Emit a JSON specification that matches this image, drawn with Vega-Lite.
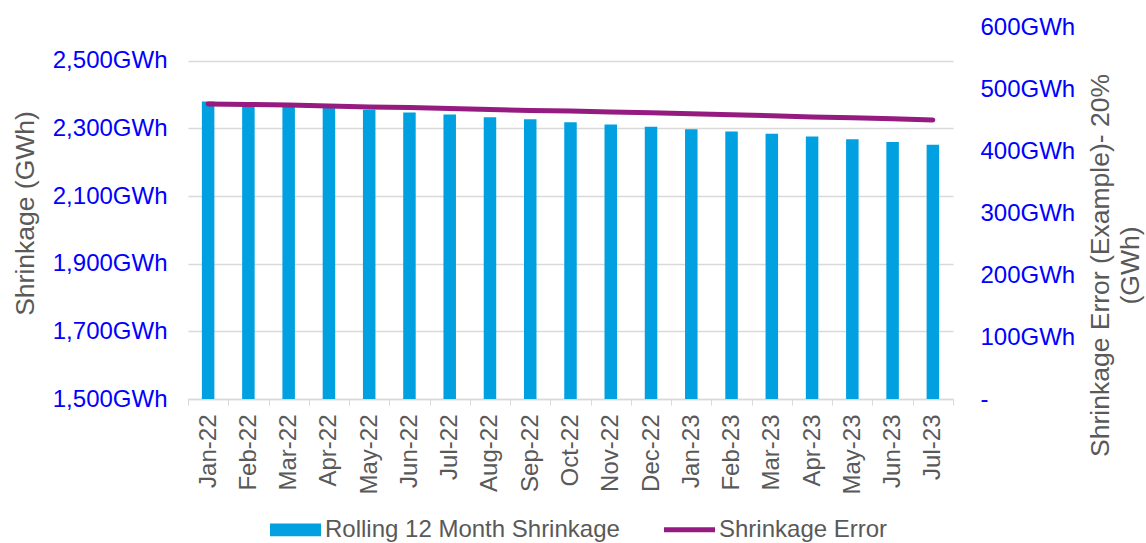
{
  "$schema": "https://vega.github.io/schema/vega-lite/v6.json",
  "width": 765,
  "height": 372,
  "autosize": {"type": "none"},
  "padding": {"left": 188, "top": 27, "right": 193, "bottom": 144},
  "background": "white",
  "config": {
    "font": "Liberation Sans",
    "view": {"stroke": null},
    "axis": {"labelFont": "Liberation Sans", "titleFont": "Liberation Sans", "titleFontWeight": "normal"}
  },
  "data": {
    "values": [
      {"month": "Jan-22", "shrinkage": 2380, "error": 476},
      {"month": "Feb-22", "shrinkage": 2373, "error": 475},
      {"month": "Mar-22", "shrinkage": 2367, "error": 474},
      {"month": "Apr-22", "shrinkage": 2361, "error": 472.5},
      {"month": "May-22", "shrinkage": 2355, "error": 471},
      {"month": "Jun-22", "shrinkage": 2347, "error": 470},
      {"month": "Jul-22", "shrinkage": 2341, "error": 468.5},
      {"month": "Aug-22", "shrinkage": 2333, "error": 467},
      {"month": "Sep-22", "shrinkage": 2327, "error": 465.5},
      {"month": "Oct-22", "shrinkage": 2318, "error": 464.5},
      {"month": "Nov-22", "shrinkage": 2312, "error": 463},
      {"month": "Dec-22", "shrinkage": 2305, "error": 461.5},
      {"month": "Jan-23", "shrinkage": 2298, "error": 460},
      {"month": "Feb-23", "shrinkage": 2291, "error": 458.5},
      {"month": "Mar-23", "shrinkage": 2284, "error": 457},
      {"month": "Apr-23", "shrinkage": 2276, "error": 455},
      {"month": "May-23", "shrinkage": 2268, "error": 453.5},
      {"month": "Jun-23", "shrinkage": 2260, "error": 452},
      {"month": "Jul-23", "shrinkage": 2252, "error": 450}
    ]
  },
  "encoding": {
    "x": {
      "field": "month",
      "type": "ordinal",
      "sort": null,
      "scale": {"paddingInner": 0, "paddingOuter": 0},
      "axis": {
        "title": null,
        "labelAngle": -90,
        "labelFontSize": 24,
        "labelColor": "#595959",
        "labelPadding": 9,
        "tickBand": "extent",
        "tickSize": 6,
        "tickColor": "#D9D9D9",
        "domainColor": "#D9D9D9",
        "domainWidth": 1.5,
        "grid": false,
        "labelLimit": 200
      }
    }
  },
  "layer": [
    {
      "mark": {"type": "bar", "width": 12.5, "clip": true},
      "encoding": {
        "y": {
          "field": "shrinkage",
          "type": "quantitative",
          "scale": {"domain": [1500, 2600], "nice": false, "zero": false},
          "axis": {
            "orient": "left",
            "title": "Shrinkage (GWh)",
            "titleFontSize": 26.5,
            "titleColor": "#595959",
            "titleX": -163,
            "titleY": 186,
            "titleAngle": -90,
            "titleAlign": "center",
            "titleBaseline": "middle",
            "values": [1500, 1700, 1900, 2100, 2300, 2500],
            "labelExpr": "format(datum.value, ',') + 'GWh'",
            "labelFontSize": 24,
            "labelColor": "#0000FF",
            "labelPadding": 21,
            "ticks": false,
            "domain": false,
            "grid": true,
            "gridColor": "#D9D9D9",
            "gridWidth": 1.5
          }
        },
        "y2": {"datum": 1500},
        "color": {
          "datum": "Rolling 12 Month Shrinkage",
          "type": "nominal",
          "scale": {"domain": ["Rolling 12 Month Shrinkage", "Shrinkage Error"], "range": ["#00A0E1", "#951B81"]},
          "legend": {
            "title": null,
            "orient": "none",
            "legendX": 82,
            "legendY": 477,
            "direction": "horizontal",
            "labelFontSize": 24,
            "labelColor": "#595959",
            "labelLimit": 400,
            "labelOffset": 4,
            "columnPadding": 44,
            "symbolSize": 2601,
            "encode": {
              "symbols": {
                "update": {
                  "shape": {"signal": "datum.value === 'Shrinkage Error' ? 'M-1,-0.1H1V0.1H-1Z' : 'M-1,-0.25H1V0.25H-1Z'"},
                  "fill": {"signal": "datum.value === 'Shrinkage Error' ? '#951B81' : '#00A0E1'"},
                  "stroke": {"value": "transparent"},
                  "strokeWidth": {"value": 0},
                  "opacity": {"value": 1},
                  "fillOpacity": {"value": 1},
                  "size": {"value": 2601}
                }
              }
            }
          }
        }
      }
    },
    {
      "mark": {"type": "line", "strokeWidth": 5, "strokeCap": "round"},
      "encoding": {
        "y": {
          "field": "error",
          "type": "quantitative",
          "scale": {"domain": [0, 600], "nice": false},
          "axis": {
            "orient": "right",
            "title": ["Shrinkage Error (Example)- 20%", "(GWh)"],
            "titleFontSize": 26.5,
            "titleColor": "#595959",
            "titleAngle": -90,
            "titleX": 147,
            "titleY": 238,
            "titleAlign": "center",
            "titleBaseline": "middle",
            "titleLineHeight": 30,
            "values": [0, 100, 200, 300, 400, 500, 600],
            "labelExpr": "datum.value === 0 ? '-' : datum.value + 'GWh'",
            "labelFontSize": 24,
            "labelColor": "#0000FF",
            "labelPadding": 27,
            "ticks": false,
            "domain": false,
            "grid": false
          }
        },
        "color": {"datum": "Shrinkage Error", "type": "nominal"}
      }
    }
  ],
  "resolve": {"scale": {"y": "independent"}}
}
